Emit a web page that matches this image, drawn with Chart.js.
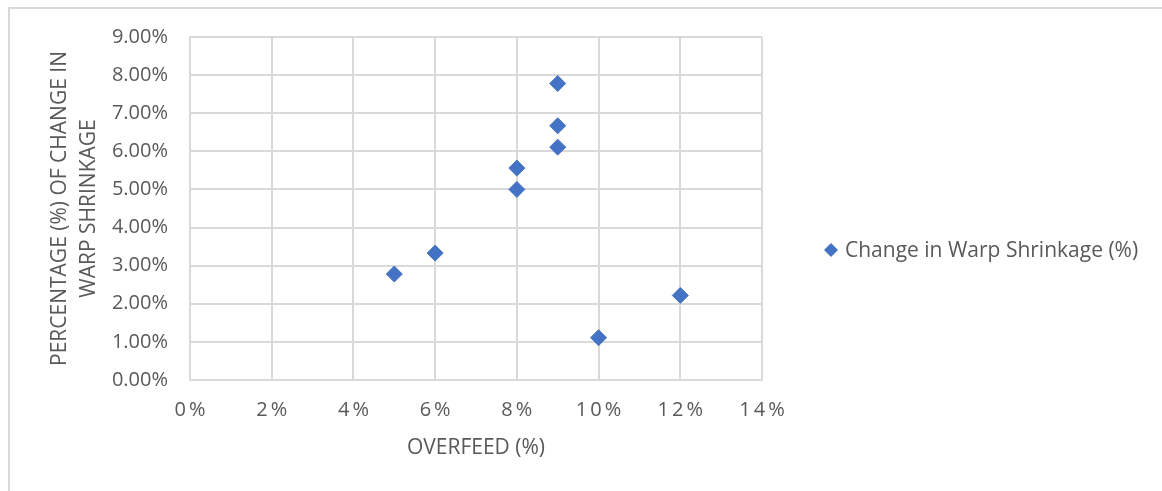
<!DOCTYPE html>
<html>
<head>
<meta charset="utf-8">
<script src="https://cdn.jsdelivr.net/npm/chart.js@4/dist/chart.umd.min.js"></script>
<style>
    html, body { margin: 0; padding: 0; background: #fff; overflow: hidden; }
    #frame {
        position: absolute; left: 8px; top: 7px; width: 1400px; height: 700px;
        border-left: 2px solid #d9d9d9; border-top: 2px solid #d9d9d9;
    }
    #wrap { position: absolute; left: 0; top: 0; width: 1162px; height: 491px; }
</style>
</head>
<body>
<div id="frame"></div>
<div id="wrap"><canvas id="scatterChart" width="1162" height="491"></canvas></div>
<script>
const overfeed = [5, 6, 8, 8, 9, 9, 9, 10, 12];
const warpShrinkage = [2.78, 3.33, 5.00, 5.56, 6.11, 6.67, 7.78, 1.11, 2.22];
const seriesName = 'Change in Warp Shrinkage (%)';
const xTitle = 'OVERFEED (%)';
const yTitle = ['PERCENTAGE (%) OF CHANGE IN', 'WARP SHRINKAGE'];

const FONT = '"Open Sans", sans-serif';
const TEXT = '#595959';
const GRID = '#d9d9d9';
const BLUE = '#4472c4';

// legend drawn by hand so the plot keeps its own width
const sideLegend = {
    id: 'sideLegend',
    afterDraw(chart) {
        const ctx = chart.ctx;
        const ds = chart.data.datasets[0];
        const x = 831, y = 250, r = 7;
        ctx.save();
        ctx.fillStyle = ds.backgroundColor;
        ctx.beginPath();
        ctx.moveTo(x - r, y);
        ctx.lineTo(x, y - r);
        ctx.lineTo(x + r, y);
        ctx.lineTo(x, y + r);
        ctx.closePath();
        ctx.fill();
        ctx.fillStyle = TEXT;
        ctx.font = '21px ' + FONT;
        ctx.textBaseline = 'middle';
        ctx.textAlign = 'left';
        ctx.fillText(ds.label, 845, y + 1);
        ctx.restore();
    }
};

// wider letter spacing on the x tick labels only
const spacedXTicks = {
    id: 'spacedXTicks',
    afterUpdate(chart) {
        const sx = chart.scales.x;
        if (sx._spaced) return;
        sx._spaced = true;
        const orig = sx.drawLabels.bind(sx);
        sx.drawLabels = function (area) {
            const ctx = this.ctx;
            ctx.save();
            ctx.letterSpacing = '3px';
            ctx.translate(1.5, 0);
            orig(area);
            ctx.restore();
        };
    }
};

const points = overfeed.map((v, i) => ({ x: v, y: warpShrinkage[i] }));

new Chart(document.getElementById('scatterChart'), {
    type: 'scatter',
    data: {
        datasets: [{
            label: seriesName,
            data: points,
            pointStyle: 'rectRot',
            pointRadius: 8,
            pointHoverRadius: 8,
            backgroundColor: BLUE,
            borderColor: BLUE,
            borderWidth: 1
        }]
    },
    options: {
        responsive: false,
        animation: false,
        events: [],
        layout: { padding: { left: 0, top: 37, right: 400, bottom: 0 } },
        plugins: { legend: { display: false }, tooltip: { enabled: false } },
        scales: {
            x: {
                type: 'linear',
                min: 0,
                max: 14,
                afterFit: (s) => { s.height = 111; },
                grid: { color: GRID, lineWidth: 2, drawTicks: false },
                border: { color: GRID, width: 2 },
                ticks: {
                    stepSize: 2,
                    padding: 18,
                    color: TEXT,
                    font: { family: FONT, size: 20 },
                    callback: (v) => v + '%'
                },
                title: {
                    display: true,
                    text: xTitle,
                    color: TEXT,
                    font: { family: FONT, size: 21 },
                    padding: { top: 0, bottom: 30 }
                }
            },
            y: {
                min: 0,
                max: 9,
                afterFit: (s) => { s.width = 190; },
                grid: { color: GRID, lineWidth: 2, drawTicks: false },
                border: { color: GRID, width: 2 },
                ticks: {
                    stepSize: 1,
                    padding: 22,
                    color: TEXT,
                    font: { family: FONT, size: 20 },
                    callback: (v) => v.toFixed(2) + '%'
                },
                title: {
                    display: true,
                    text: yTitle,
                    color: TEXT,
                    font: { family: FONT, size: 21, lineHeight: 1.38 },
                    padding: { top: 46, bottom: 0 }
                }
            }
        }
    },
    plugins: [spacedXTicks, sideLegend]
});
</script>
</body>
</html>
